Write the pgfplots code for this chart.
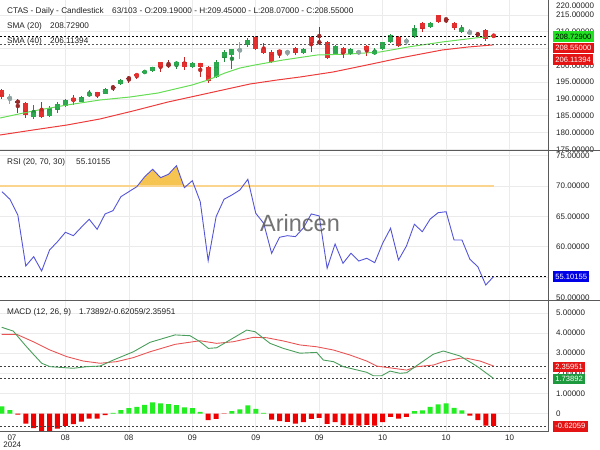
\documentclass[border=0pt]{standalone}
\usepackage{fontspec}
\setmainfont{Liberation Sans}
\usepackage{pgfplots}
\pgfplotsset{compat=1.18}
\usepackage{pgfplotstable}

\definecolor{gridc}{HTML}{EBEBEB}
\definecolor{sepc}{HTML}{5A5A5A}
\definecolor{gfill}{HTML}{2DAA4F}
\definecolor{gline}{HTML}{23893F}
\definecolor{rfill}{HTML}{E53030}
\definecolor{rline}{HTML}{C42626}
\definecolor{dred}{HTML}{9A2A2A}
\definecolor{grayc}{HTML}{8FA3A3}
\definecolor{smagr}{HTML}{66DD55}
\definecolor{smared}{HTML}{EE3B3B}
\definecolor{rsic}{HTML}{5454D8}
\definecolor{obline}{HTML}{FBD48E}
\definecolor{obfill}{HTML}{F6C451}
\definecolor{macdc}{HTML}{4A9E5C}
\definecolor{sigc}{HTML}{E85555}
\definecolor{hgreen}{HTML}{22EE22}
\definecolor{hred}{HTML}{EE0000}
\definecolor{boxgreen}{HTML}{22E022}
\definecolor{boxred}{HTML}{E41414}
\definecolor{boxblue}{HTML}{0000E6}
\definecolor{boxdgreen}{HTML}{1E9A3E}
\definecolor{txt}{HTML}{222222}
\definecolor{wm}{HTML}{5A5A5A}

\newcommand{\lab}{\fontsize{8}{9.6}\selectfont}
\newcommand{\hdr}{\fontsize{8.2}{9.8}\selectfont}
\newcommand{\bx}{\fontsize{7.6}{9}\selectfont}

% candles: index open high low close
\pgfplotstableread{
i o h l c
4 184.64 188.21 184.05 186.13
6 184.94 187.91 184.64 187.32
7 186.72 189.10 185.83 188.51
8 187.91 190.00 187.62 189.70
10 189.10 190.89 188.96 190.59
11 190.89 192.68 190.59 191.78
13 191.49 193.27 191.34 192.97
15 194.46 195.95 194.16 195.65
18 197.74 198.48 197.59 198.33
19 198.33 199.67 198.18 199.52
22 200.12 201.31 198.93 201.01
24 199.52 201.01 199.22 200.71
27 196.54 201.60 196.25 201.01
28 202.20 204.58 201.01 203.99
29 203.09 205.00 198.93 204.88
31 206.07 208.15 205.47 207.56
38 203.69 205.18 203.39 204.88
42 203.39 206.07 203.09 205.77
44 203.39 205.03 203.24 204.88
47 203.39 205.18 203.09 204.28
48 204.88 207.11 204.58 206.96
49 206.96 209.34 206.66 209.04
52 208.45 212.02 208.30 211.13
54 211.42 212.91 211.13 212.62
58 209.94 212.02 209.64 211.13
}\tgreen

\pgfplotstableread{
i o h l c
0 192.68 192.97 190.00 190.59
3 188.81 189.10 184.34 185.24
5 186.72 189.10 184.49 184.64
9 190.30 191.19 188.21 189.40
12 192.08 192.20 190.30 190.89
17 197.44 197.74 195.95 196.84
20 201.01 201.10 198.03 199.52
23 201.01 202.50 198.63 199.52
25 200.71 200.80 196.54 199.52
26 199.52 199.82 194.76 195.35
32 208.45 208.75 204.58 204.88
33 204.88 206.66 203.39 203.69
34 203.99 204.58 200.71 201.01
35 204.58 204.70 202.20 203.69
37 205.18 205.62 203.24 203.69
39 208.45 208.60 203.99 206.66
41 206.96 207.26 201.90 202.20
43 205.18 205.47 202.20 203.69
46 205.77 206.07 202.79 204.58
50 208.45 208.75 205.47 205.77
53 212.62 212.91 209.94 210.83
55 215.00 215.14 212.76 212.91
57 212.62 212.91 210.53 211.13
61 210.53 210.83 207.26 207.85
62 209.19 209.45 208.07 208.55
}\tred

\pgfplotstableread{
i o h l c
2 189.25 190.00 185.83 189.10
14 193.57 194.16 192.38 193.42
16 196.25 196.84 194.76 196.10
21 200.12 201.60 199.22 199.97
40 206.96 211.42 206.07 206.81
56 213.81 214.10 212.62 213.66
60 209.34 209.94 208.45 209.19
}\tdred

\pgfplotstableread{
i o h l c
1 190.30 191.49 188.51 190.30
30 204.58 206.96 201.90 204.58
36 203.99 204.58 202.79 203.99
45 203.99 204.58 203.09 203.99
51 207.26 208.15 206.07 207.26
59 209.64 210.83 209.04 209.64
}\tgray

\pgfplotstableread{
i v
0 69.07
1 67.82
2 65.23
3 56.83
4 58.36
5 56.00
6 59.46
7 60.83
8 62.38
9 61.82
10 63.20
11 64.52
12 62.87
13 65.40
14 65.94
15 68.25
16 69.07
17 69.89
18 71.54
19 72.76
20 71.38
21 71.94
22 73.35
23 69.73
24 70.88
25 67.42
26 57.70
27 64.95
28 67.82
29 68.53
30 69.35
31 71.11
32 65.51
33 63.86
34 58.92
35 61.56
36 61.82
37 61.66
38 63.09
39 65.40
40 65.07
41 56.45
42 60.45
43 57.27
44 58.92
45 57.65
46 58.10
47 57.37
48 60.57
49 63.04
50 57.82
51 60.12
52 63.70
53 62.48
54 64.57
55 65.61
56 65.77
57 61.11
58 61.11
59 57.93
60 56.71
61 53.70
62 55.10155
}\trsi

\pgfplotsset{
  panel/.style={
    width=548pt, scale only axis, anchor=south west,
    xmin=-0.25, xmax=68.85, clip=false,
    axis line style={draw=none},
    major tick length=0pt, minor tick num=0,
    grid=major, grid style={color=gridc, line width=0.7pt},
    xtick={8,16,...,64},
    yticklabel pos=right,
    scaled y ticks=false,
    tick label style={font=\lab, text=txt},
    yticklabel style={anchor=west, inner sep=0pt, xshift=8pt,
      /pgf/number format/fixed, /pgf/number format/fixed zerofill,
      /pgf/number format/precision=5, /pgf/number format/1000 sep={},
      /pgf/number format/assume math mode=true},
  },
  wick/.style={color=#1, only marks, mark=none, error bars/.cd, y dir=both, y explicit,
    error mark=none, error bar style={line width=1pt, draw=#1, color=#1}},
  body/.style={color=#1, only marks, mark=none, error bars/.cd, y dir=both, y explicit,
    error mark=none, error bar style={line width=5pt, draw=#1, color=#1}},
}

\begin{document}
\begin{tikzpicture}[x=1pt,y=1pt]
\useasboundingbox (0,0) rectangle (600,450);

% ---------------- price panel
\begin{axis}[panel, at={(0pt,299.3pt)}, height=150.7pt,
  ymin=174.61, ymax=219.464, ytick={175,180,...,215}, xticklabels={}]
  % wicks
  \addplot[wick=gline] table[x=i, y expr={(\thisrow{h}+\thisrow{l})/2}, y error expr={(\thisrow{h}-\thisrow{l})/2}] {\tgreen};
  \addplot[wick=rline] table[x=i, y expr={(\thisrow{h}+\thisrow{l})/2}, y error expr={(\thisrow{h}-\thisrow{l})/2}] {\tred};
  \addplot[wick=dred] table[x=i, y expr={(\thisrow{h}+\thisrow{l})/2}, y error expr={(\thisrow{h}-\thisrow{l})/2}] {\tdred};
  \addplot[wick=grayc] table[x=i, y expr={(\thisrow{h}+\thisrow{l})/2}, y error expr={(\thisrow{h}-\thisrow{l})/2}] {\tgray};
  % bodies
  \addplot[body=gfill] table[x=i, y expr={(\thisrow{o}+\thisrow{c})/2}, y error expr={max(abs(\thisrow{o}-\thisrow{c})/2,0.17)}] {\tgreen};
  \addplot[body=rfill] table[x=i, y expr={(\thisrow{o}+\thisrow{c})/2}, y error expr={max(abs(\thisrow{o}-\thisrow{c})/2,0.17)}] {\tred};
  \addplot[body=dred] table[x=i, y expr={(\thisrow{o}+\thisrow{c})/2}, y error expr={max(abs(\thisrow{o}-\thisrow{c})/2,0.17)}] {\tdred};
  \addplot[body=grayc] table[x=i, y expr={(\thisrow{o}+\thisrow{c})/2}, y error expr={0.17}] {\tgray};
  % SMA lines
  \addplot[smared, line width=1pt] coordinates {(-0.25,179.28) (3.91,180.77) (8.20,182.26) (12.36,184.05) (16.52,186.43) (20.93,189.10) (24.97,191.19) (31.27,194.46) (34.68,195.65) (37.58,196.54) (41.74,198.03) (46.03,200.12) (50.19,202.20) (55.49,204.58) (58.76,205.47) (62,206.114)};
  \addplot[smagr, line width=1pt] coordinates {(-0.25,184.34) (3.91,186.43) (8.20,188.21) (12.36,189.70) (16.14,190.59) (19.67,191.78) (23.96,194.16) (25.98,195.65) (28.12,197.74) (30.01,199.22) (31.90,200.12) (35.44,201.60) (39.72,203.09) (43.88,203.39) (47.67,203.99) (51.20,205.47) (55.49,206.96) (59.65,208.15) (62,208.729)};
  % level lines
  \addplot[black, line width=1pt, dash pattern=on 2pt off 2pt] coordinates {(-0.25,208.729) (68.85,208.729)};
  \addplot[black, line width=0.9pt, dash pattern=on 2pt off 2pt] coordinates {(-0.25,208.55) (68.85,208.55)};
  \addplot[black!65, line width=0.8pt, dash pattern=on 2pt off 2pt] coordinates {(-0.25,206.114) (68.85,206.114)};
\end{axis}

% ---------------- RSI panel
\begin{axis}[panel, at={(0pt,149pt)}, height=150.3pt,
  ymin=51.06, ymax=75.82, ytick={55,60,...,75}, xticklabels={}]
  \addplot[fill=obfill, draw=none] coordinates {(17.07,70) (18,71.54) (19,72.76) (20,71.38) (21,71.94) (22,73.35) (22.93,70)};
  \addplot[obline, line width=1.2pt] coordinates {(-0.25,70) (62,70)};
  \addplot[black, line width=0.7pt, dash pattern=on 2pt off 2pt] coordinates {(-0.25,55.10155) (68.85,55.10155)};
  \addplot[rsic, line width=0.9pt] table[x=i, y=v] {\trsi};
\end{axis}

% ---------------- MACD panel
\begin{axis}[panel, at={(0pt,18.3pt)}, height=130.7pt,
  ymin=-0.905, ymax=5.597, ytick={0,1,2,3,4,5},
  yticklabels={0,1.00000,2.00000,3.00000,4.00000,5.00000},
  xticklabels={08,08,09,09,09,10,10,10},
  xticklabel style={anchor=base, yshift=-8.8pt, inner sep=0pt}]
  \addplot[ybar, bar width=5pt, bar shift=0pt, fill=hgreen, draw=none] coordinates {
    (0,0.35) (1,0.17) (14,0.03) (15,0.17) (16,0.27) (17,0.33) (18,0.43) (19,0.55) (20,0.50) (21,0.47) (22,0.42) (23,0.30) (24,0.27) (25,0.08)
    (29,0.12) (30,0.20) (31,0.40) (32,0.23) (33,0.03)
    (52,0.12) (53,0.15) (54,0.33) (55,0.45) (56,0.50) (57,0.28) (58,0.15)};
  \addplot[ybar, bar width=5pt, bar shift=0pt, fill=hred, draw=none] coordinates {
    (2,-0.05) (3,-0.50) (4,-0.73) (5,-0.90) (6,-0.87) (7,-0.75) (8,-0.62) (9,-0.53) (10,-0.40) (11,-0.25) (12,-0.25) (13,-0.08)
    (26,-0.33) (27,-0.27) (28,-0.02)
    (34,-0.30) (35,-0.38) (36,-0.42) (37,-0.50) (38,-0.43) (39,-0.27) (40,-0.22) (41,-0.52) (42,-0.43) (43,-0.58) (44,-0.58) (45,-0.60) (46,-0.57) (47,-0.60) (48,-0.43) (49,-0.17) (50,-0.25) (51,-0.17)
    (59,-0.10) (60,-0.33) (61,-0.60) (62,-0.62059)};
  \addplot[black!75, line width=0.8pt, dash pattern=on 2pt off 2pt] coordinates {(-0.25,2.35951) (68.85,2.35951)};
  \addplot[black!75, line width=0.8pt, dash pattern=on 2pt off 2pt] coordinates {(-0.25,1.73892) (68.85,1.73892)};
  \addplot[black!75, line width=0.8pt, dash pattern=on 2pt off 2pt] coordinates {(-0.25,-0.62059) (68.85,-0.62059)};
  \addplot[sigc, line width=0.9pt] coordinates {(-0.04,3.94) (1.85,3.94) (3.95,3.57) (6.05,3.16) (8.16,2.83) (10.25,2.61) (12.36,2.50) (14.46,2.58) (16.56,2.78) (18.66,3.07) (21.82,3.44) (24.97,3.62) (27.07,3.49) (29.17,3.57) (31.69,3.79) (33.38,3.77) (35.47,3.61) (37.58,3.41) (39.68,3.32) (41.78,3.16) (43.88,2.91) (45.99,2.61) (47.25,2.36) (49.34,2.25) (51.03,2.16) (52.29,2.33) (54.39,2.41) (55.65,2.58) (57.76,2.75) (58.60,2.75) (60.28,2.61) (62,2.35951)};
  \addplot[macdc, line width=0.9pt] coordinates {(-0.04,4.29) (1.42,4.10) (2.90,3.41) (3.95,2.95) (5.01,2.50) (6.05,2.33) (8.99,2.25) (10.68,2.33) (12.36,2.36) (14.04,2.66) (16.56,3.07) (18.66,3.54) (21.82,3.91) (23.71,3.87) (24.97,3.57) (26.02,3.24) (27.07,3.27) (28.75,3.66) (30.86,4.15) (31.90,4.07) (33.80,3.49) (35.47,3.24) (37.58,3.00) (39.68,3.04) (40.52,2.66) (41.78,2.58) (43.04,2.33) (45.99,2.05) (46.82,1.88) (47.88,1.88) (48.93,2.11) (50.19,2.00) (51.03,2.03) (52.29,2.38) (54.39,2.95) (55.65,3.11) (57.76,2.86) (59.86,2.36) (62,1.73892)};
\end{axis}

% ---------------- frame lines
\draw[sepc, line width=1pt] (0,299.3) -- (600,299.3);
\draw[sepc, line width=1pt] (0,149) -- (600,149);
\draw[sepc, line width=1pt] (548,18.3) -- (548,450);
\draw[sepc, line width=1pt] (0,18.3) -- (548,18.3);

% ---------------- watermark
\node[anchor=base, inner sep=0pt, text=wm, opacity=0.85, font=\fontsize{23.5}{28}\selectfont] at (300,218.3) {Arincen};

% ---------------- header texts
\begin{scope}[every node/.style={anchor=base west, inner sep=0pt, text=txt, font=\hdr}]
\node at (7,436.5) {CTAS - Daily - Candlestick};
\node at (112,436.5) {63/103 - O:209.19000 - H:209.45000 - L:208.07000 - C:208.55000};
\node at (7,421.5) {SMA (20)};
\node at (50,421.5) {208.72900};
\node at (7,406.5) {SMA (40)};
\node at (50,406.5) {206.11394};
\node at (7,285.9) {RSI (20, 70, 30)};
\node at (76,285.9) {55.10155};
\node at (7,135.5) {MACD (12, 26, 9)};
\node at (79,135.5) {1.73892/-0.62059/2.35951};
\end{scope}

% ---------------- extra axis texts
\node[anchor=west, inner sep=0pt, text=txt, font=\lab] at (556,444) {220.00000};
\node[anchor=west, inner sep=0pt, text=txt, font=\lab] at (556,152.5) {50.00000};
\node[anchor=base, inner sep=0pt, text=txt, font=\lab] at (12,9.5) {07};
\node[anchor=base, inner sep=0pt, text=txt, font=\lab] at (12.3,2.7) {2024};

% ---------------- value boxes
\begin{scope}[every node/.style={anchor=west, inner xsep=2.2pt, inner ysep=0pt, minimum height=10.5pt, font=\bx}]
\node[fill=boxgreen, text=black] at (553,413.3) {208.72900};
\node[fill=boxred, text=white] at (553,402) {208.55000};
\node[fill=boxred, text=white] at (553,390.3) {206.11394};
\node[fill=boxblue, text=white] at (553,173.3) {55.10155};
\node[fill=boxred, text=white] at (553,83) {2.35951};
\node[fill=boxdgreen, text=white] at (553,71.2) {1.73892};
\node[fill=boxred, text=white] at (553,23.7) {-0.62059};
\end{scope}
\end{tikzpicture}
\end{document}
